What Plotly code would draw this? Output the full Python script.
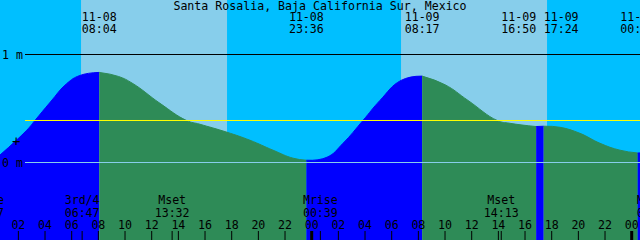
import plotly.graph_objects as go

# ---------------- data (hours counted from 11-08 00:00, heights in metres) ----------------
X0, X1 = 0.6225, 48.6225          # visible time window

curve_t = [0.60, 2.62, 3.25, 4.40, 5.62, 6.62, 9.50, 10.60, 12.62, 14.60, 15.62,
           17.65, 19.37, 21.10, 22.60, 25.15, 26.35, 27.85, 29.12, 30.70, 34.00,
           35.72, 37.90, 38.87, 42.62, 44.12, 45.62, 47.12, 48.65]
curve_h = [0.067, 0.298, 0.390, 0.560, 0.730, 0.806, 0.797, 0.730, 0.548, 0.390, 0.354,
           0.280, 0.206, 0.114, 0.040, 0.049, 0.178, 0.390, 0.575, 0.760, 0.720,
           0.575, 0.390, 0.363, 0.326, 0.270, 0.178, 0.114, 0.089]

ext_t = [8.067, 23.600, 32.283, 40.833, 41.400, 48.450]
ext_h = [0.834, 0.021, 0.800, 0.333, 0.336, 0.088]
ext_date = ["11-08", "11-08", "11-09", "11-09", "11-09", "11-10"]
ext_time = ["08:04", "23:36", "08:17", "16:50", "17:24", "00:27"]

sunrise_t = [6.70, 30.70]
sunset_t = [17.65, 41.65]

moon_t = [-0.383, 6.783, 13.533, 24.650, 38.217, 49.683]
moon_name = ["Mrise", "3rd/4", "Mset", "Mrise", "Mset", "Mrise"]
moon_time = ["23:37", "06:47", "13:32", "00:39", "14:13", "01:41"]

tick_t = [2, 4, 6, 8, 10, 12, 14, 16, 18, 20, 22, 24,
          26, 28, 30, 32, 34, 36, 38, 40, 42, 44, 46, 48]
tick_lbl = ["02", "04", "06", "08", "10", "12", "14", "16", "18", "20", "22", "00",
            "02", "04", "06", "08", "10", "12", "14", "16", "18", "20", "22", "00"]

msl_level = 0.389
mark_level = 0.199
title = "Santa Rosalia, Baja California Sur, Mexico"

# ---------------- styling ----------------
NIGHT = "#00BFFF"
DAY = "#87CEEB"
RISE = "#0000FF"
FALL = "#2E8B57"
FONT = dict(family="DejaVu Sans Mono", size=11.6, color="black")
YMIN, YMAX = (162.5 - 240) / 108.0, 162.5 / 108.0
YBASE = -1.0

fig = go.Figure()

# tide fill, split at each high / low
pts = sorted(zip(curve_t + ext_t, curve_h + ext_h))
bounds = [curve_t[0]] + ext_t + [curve_t[-1]]
for b0, b1 in zip(bounds[:-1], bounds[1:]):
    seg = [p for p in pts if b0 <= p[0] <= b1]
    xs = [p[0] for p in seg]
    ys = [p[1] for p in seg]
    col = RISE if ys[-1] > ys[0] else FALL
    fig.add_trace(go.Scatter(x=[b0, b1], y=[YBASE, YBASE], mode="lines",
                             line=dict(width=0), hoverinfo="skip", showlegend=False))
    fig.add_trace(go.Scatter(x=xs, y=ys, mode="lines", fill="tonexty", fillcolor=col,
                             line=dict(width=1, shape="spline", smoothing=1.3, color=col),
                             hoverinfo="skip", showlegend=False))

# text rows (pixel y axis y2)
def text_row(x, y, txt, pos="middle center"):
    fig.add_trace(go.Scatter(x=x, y=[y] * len(x), text=txt, mode="text",
                             textposition=pos, textfont=FONT, yaxis="y2",
                             hoverinfo="skip", showlegend=False))

ext_pos = ["middle center", "middle center", "middle center", "middle left",
           "middle right", "middle center"]
text_row(ext_t, 18.5, ext_date, ext_pos)
text_row(ext_t, 30.5, ext_time, ext_pos)
text_row(moon_t, 201.3, moon_name)
text_row(moon_t, 214.0, moon_time)
text_row(tick_t, 226.3, tick_lbl)
text_row([(X0 + X1) / 2], 6.8, [title])

shapes = []
for a, b in zip(sunrise_t, sunset_t):
    shapes.append(dict(type="rect", xref="x", yref="paper", x0=a, x1=b, y0=0, y1=1,
                       fillcolor=DAY, line=dict(width=0), layer="below"))
for lvl, col in [(1.0, "black"), (msl_level, "#FFFF00"), (0.0, DAY)]:
    shapes.append(dict(type="line", xref="paper", yref="y", x0=25 / 640, x1=1,
                       y0=lvl, y1=lvl, line=dict(color=col, width=1), layer="above"))
for t in tick_t:
    w = 3 if t % 24 == 0 else 1
    shapes.append(dict(type="line", xref="x", yref="paper", x0=t, x1=t, y0=0, y1=9 / 240,
                       line=dict(color="black", width=w), layer="above"))
for t in moon_t:
    shapes.append(dict(type="line", xref="x", yref="paper", x0=t, x1=t, y0=0, y1=9 / 240,
                       line=dict(color="black", width=1), layer="above"))

annotations = [
    dict(text="1 m", xref="paper", yref="y", x=0, y=1.0, xanchor="left", yanchor="middle",
         showarrow=False, font=FONT),
    dict(text="0 m", xref="paper", yref="y", x=0, y=0.0, xanchor="left", yanchor="middle",
         showarrow=False, font=FONT),
    dict(text="+", xref="paper", yref="y", x=16 / 640, y=mark_level, xanchor="center",
         yanchor="middle", showarrow=False, font=dict(family="DejaVu Sans Mono", size=14, color="black")),
]

fig.update_layout(
    width=640, height=240, margin=dict(l=0, r=0, t=0, b=0),
    plot_bgcolor=NIGHT, paper_bgcolor=NIGHT,
    xaxis=dict(range=[X0, X1], visible=False, fixedrange=True),
    yaxis=dict(range=[YMIN, YMAX], visible=False, fixedrange=True),
    yaxis2=dict(range=[240, 0], overlaying="y", visible=False, fixedrange=True),
    shapes=shapes, annotations=annotations, showlegend=False,
)

fig.write_html("out.html")
